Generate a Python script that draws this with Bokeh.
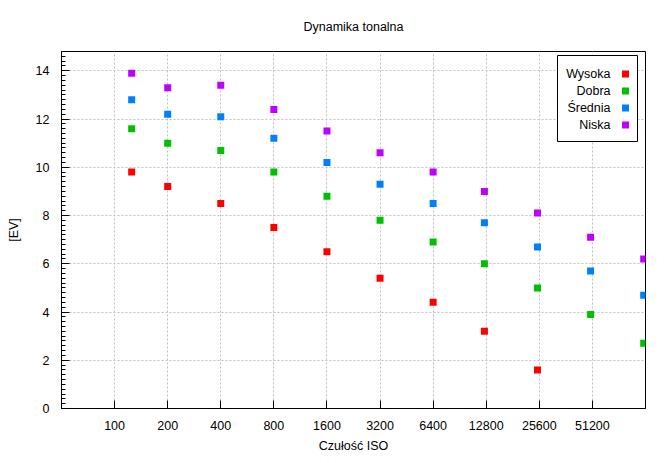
from bokeh.plotting import figure
from bokeh.models import FixedTicker, SingleIntervalTicker, BoxAnnotation, Label
from bokeh.embed import file_html
from bokeh.resources import INLINE

# ---- data ----
iso = [125, 200, 400, 800, 1600, 3200, 6400, 12500, 25000, 50000, 100000]
wysoka = [9.8, 9.2, 8.5, 7.5, 6.5, 5.4, 4.4, 3.2, 1.6]
dobra = [11.6, 11.0, 10.7, 9.8, 8.8, 7.8, 6.9, 6.0, 5.0, 3.9, 2.7]
srednia = [12.8, 12.2, 12.1, 11.2, 10.2, 9.3, 8.5, 7.7, 6.7, 5.7, 4.7]
niska = [13.9, 13.3, 13.4, 12.4, 11.5, 10.6, 9.8, 9.0, 8.1, 7.1, 6.2]
series_names = ["Wysoka", "Dobra", "Średnia", "Niska"]
series_values = [wysoka, dobra, srednia, niska]
series_colors = ["#ff0000", "#00c000", "#0080ff", "#c000ff"]
x_ticks = [100, 200, 400, 800, 1600, 3200, 6400, 12800, 25600, 51200]
title_text = "Dynamika tonalna"
x_label = "Czułość ISO"
y_label = "[EV]"

FONT = "Liberation Sans"

p = figure(width=670, height=463, x_axis_type="log",
           x_range=(50, 102400), y_range=(0, 14.8),
           output_backend="svg", toolbar_location=None,
           title=title_text,
           min_border_left=61, min_border_right=25,
           min_border_top=51, min_border_bottom=55)

p.background_fill_color = "white"
p.border_fill_color = "white"
p.outline_line_color = "black"
p.outline_line_alpha = 1.0
p.outline_line_width = 1

p.title.align = "center"
p.title.text_font = FONT
p.title.text_font_size = "12.5px"
p.title.text_font_style = "normal"
p.title.text_color = "black"
p.title.standoff = 35

# x axis
p.xaxis.ticker = FixedTicker(ticks=x_ticks)
p.xaxis.major_label_overrides = {t: str(t) for t in x_ticks}
p.xaxis.minor_tick_line_color = None
# y axis
p.yaxis.ticker = SingleIntervalTicker(interval=2, num_minor_ticks=10)

for ax in (p.xaxis, p.yaxis):
    ax.axis_line_color = "black"
    ax.major_tick_line_color = "black"
    ax.major_tick_in = 8
    ax.major_tick_out = 0
    ax.minor_tick_in = 4
    ax.minor_tick_out = 0
    ax.major_label_text_font = FONT
    ax.major_label_text_font_size = "12.5px"
    ax.major_label_text_color = "black"
    ax.axis_label_text_font = FONT
    ax.axis_label_text_font_size = "12.5px"
    ax.axis_label_text_font_style = "normal"
    ax.axis_label_text_color = "black"

p.yaxis.minor_tick_line_color = "black"
p.xaxis.axis_label = x_label
p.yaxis.axis_label = y_label
p.xaxis.major_label_standoff = 12
p.xaxis.axis_label_standoff = 6
p.yaxis.major_label_standoff = 12
p.yaxis.axis_label_standoff = 12

for g in (p.xgrid, p.ygrid):
    g.grid_line_color = "#c0c0c0"
    g.grid_line_dash = "2 2"
    g.grid_line_width = 1

for name, vals, col in zip(series_names, series_values, series_colors):
    p.scatter(iso[:len(vals)], vals, marker="square", size=7,
              fill_color=col, line_color=None)

# gnuplot-style key: text right-aligned, sample to the right
p.add_layout(BoxAnnotation(left=557, right=637, top=55, bottom=141,
                           left_units="canvas", right_units="canvas",
                           top_units="canvas", bottom_units="canvas",
                           fill_color="white", fill_alpha=1.0,
                           line_color="black", line_width=1, line_alpha=1.0))
for i, (name, col) in enumerate(zip(series_names, series_colors)):
    cy = 73.5 + 17 * i
    p.add_layout(Label(x=610, y=cy, x_units="canvas", y_units="canvas",
                       text=name, text_align="right", text_baseline="middle",
                       text_font=FONT, text_font_size="12.5px", text_color="black"))
    p.add_layout(BoxAnnotation(left=621.5, right=628.5, top=cy - 3.5, bottom=cy + 3.5,
                               left_units="canvas", right_units="canvas",
                               top_units="canvas", bottom_units="canvas",
                               fill_color=col, fill_alpha=1.0, line_color=None))

open("out.html", "w").write(file_html(p, INLINE))
